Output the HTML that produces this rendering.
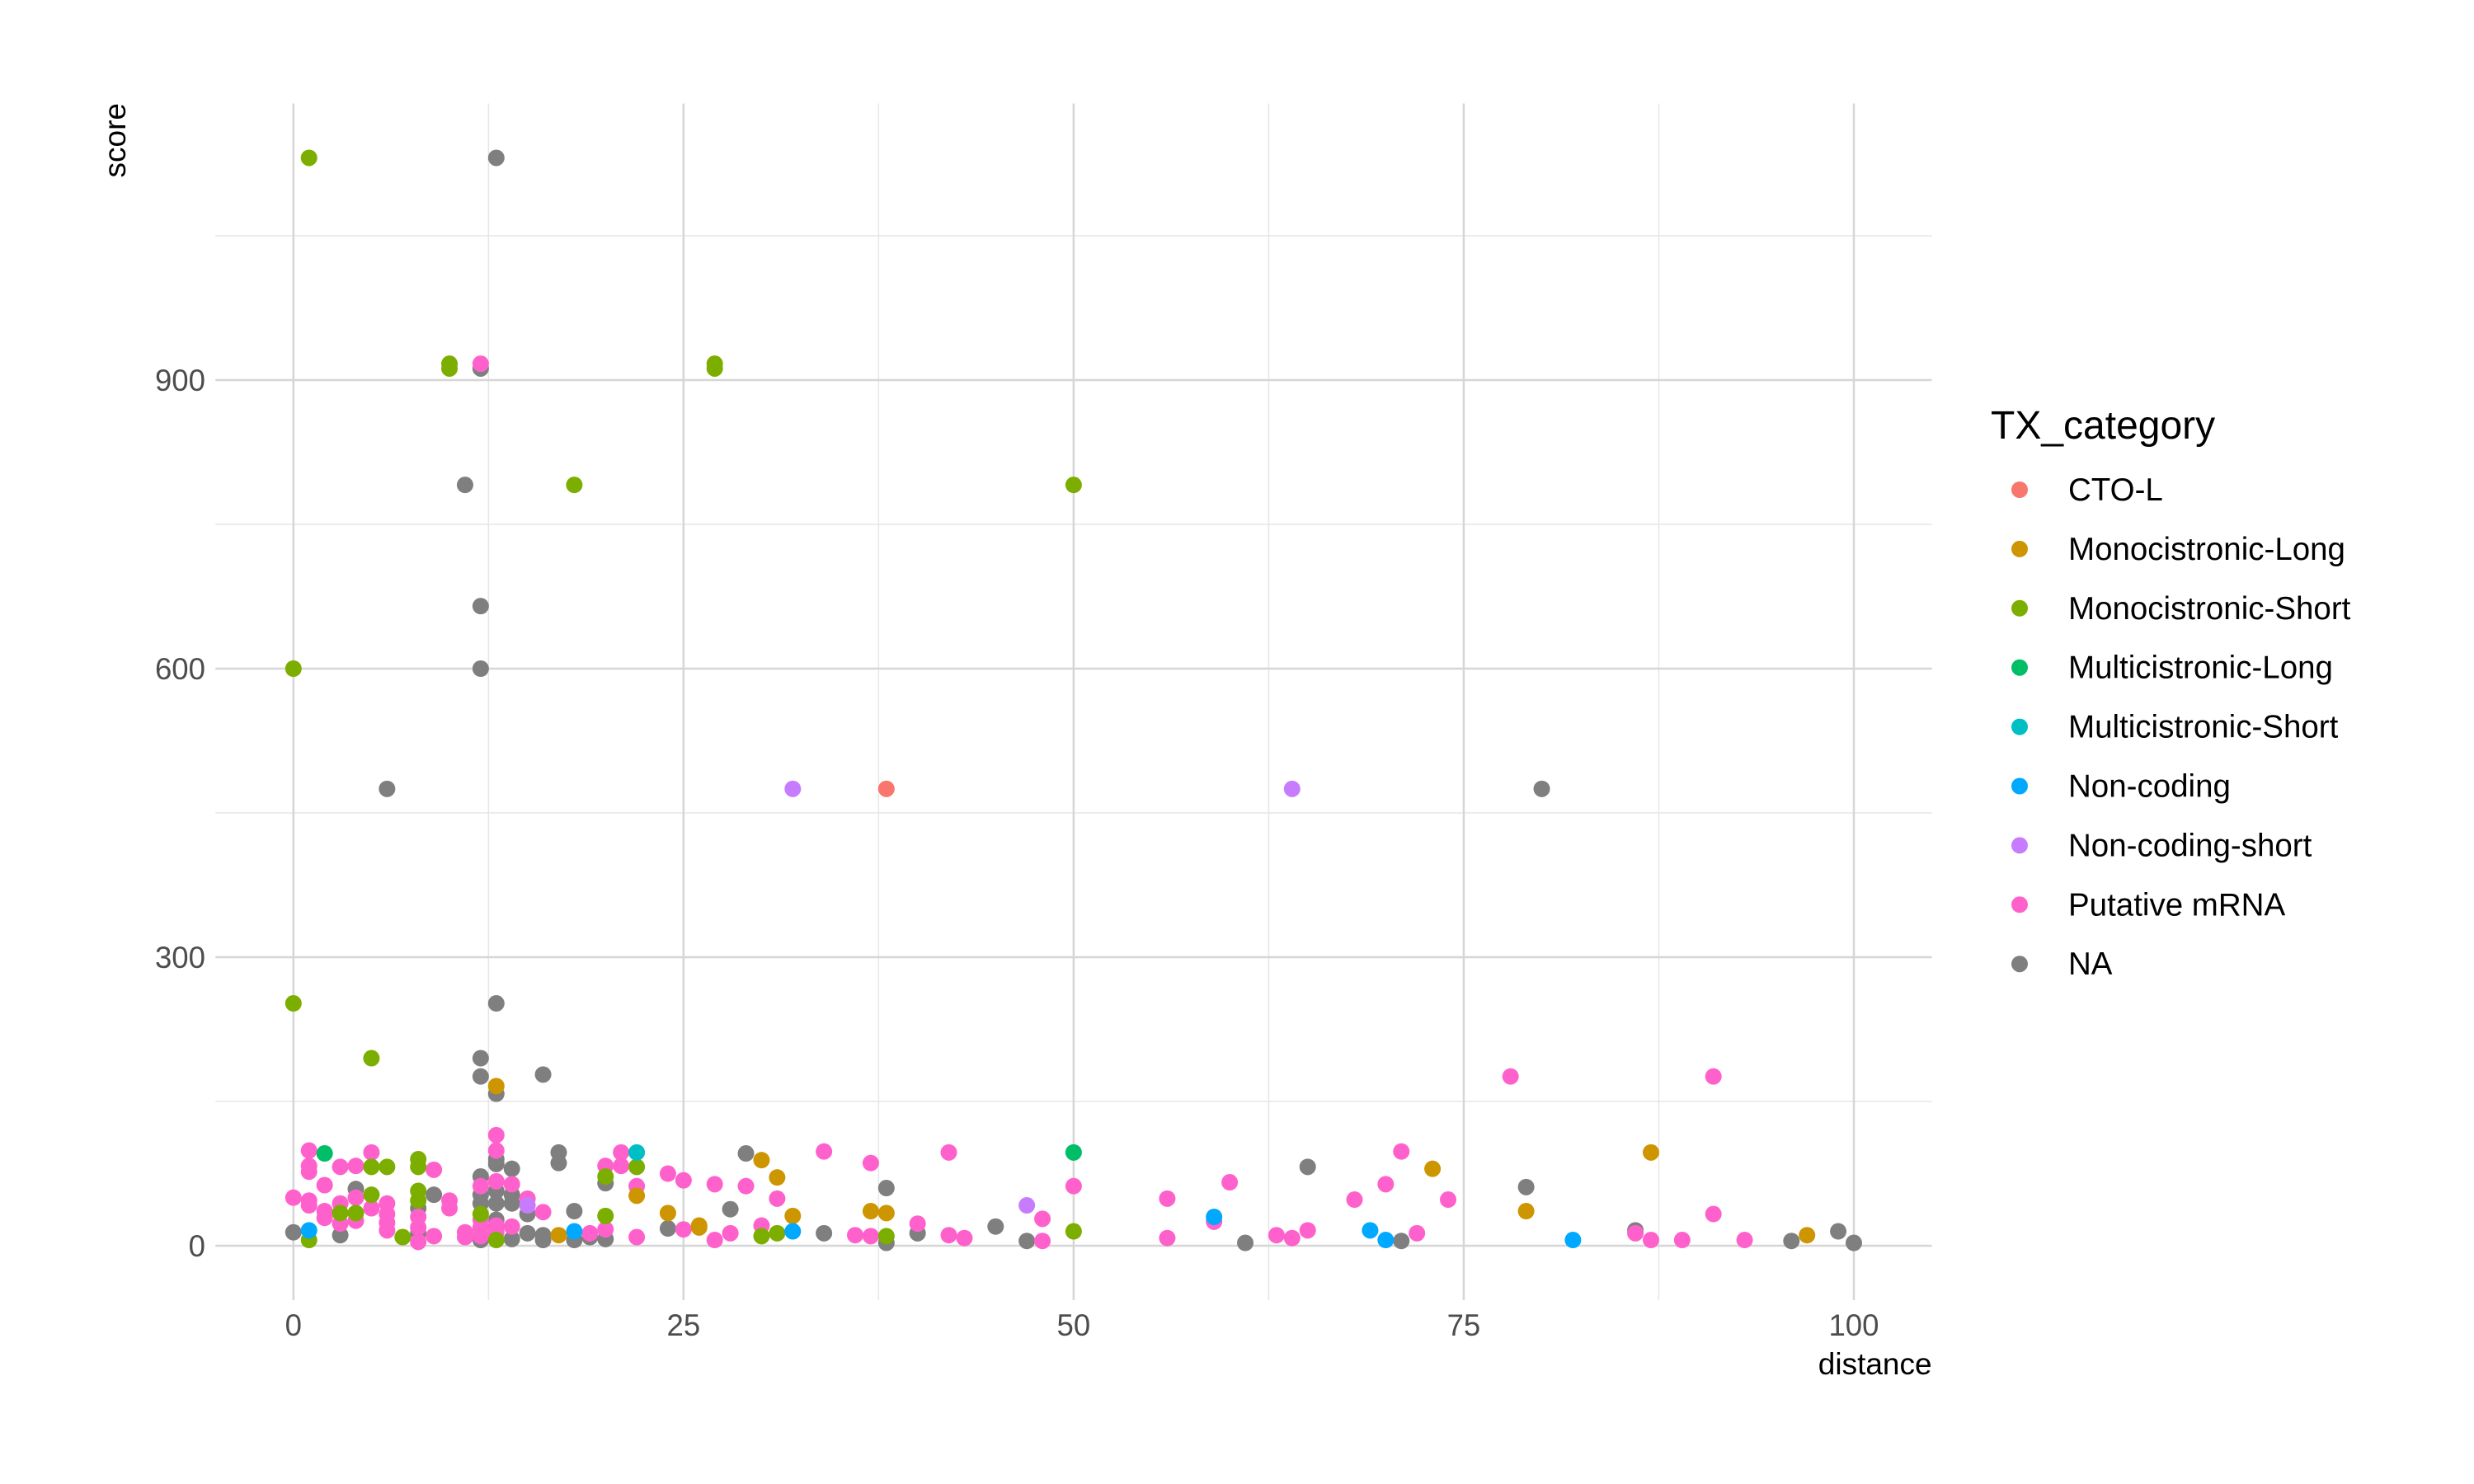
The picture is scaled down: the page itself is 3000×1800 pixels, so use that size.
<!DOCTYPE html>
<html><head><meta charset="utf-8"><style>
html,body{margin:0;padding:0;background:#fff;}
svg{display:block;font-family:"Liberation Sans",Arial,sans-serif;}
</style></head><body>
<svg id="chart" width="3000" height="1800" viewBox="0 0 3000 1800" xmlns="http://www.w3.org/2000/svg">
<g id="grid"></g>
<g id="points"></g>
<g id="axes"></g>
<g id="legend"></g>
</svg>
<script>
const categories = ["CTO-L","Monocistronic-Long","Monocistronic-Short","Multicistronic-Long","Multicistronic-Short","Non-coding","Non-coding-short","Putative mRNA","NA"];
const catColors = ["#F8766D","#CD9600","#7CAE00","#00BE67","#00BFC4","#00A9FF","#C77CFF","#FF61CC","#7F7F7F"];
const xTicks = [0,25,50,75,100];
const yTicks = [0,300,600,900];

const ctoDist = [38];
const ctoScore = [475];
const monoLongDist = [13,17,22,24,26,26,30,31,32,37,38,73,79,87,97];
const monoLongScore = [166,11,52,34,19,21,89,71,31,36,34,80,36,97,11];
const monoShortDist = [1,10,10,27,27,18,50,0,0,5,1,5,6,3,4,5,7,8,8,8,8,12,13,20,20,22,30,31,38,50];
const monoShortScore = [1131,917,912,917,912,791,791,600,252,195,6,82,82,34,34,53,9,90,82,57,47,33,6,72,31,82,10,13,10,15];
const multiLongDist = [2,50];
const multiLongScore = [96,97];
const multiShortDist = [22];
const multiShortScore = [97];
const nonCodingDist = [1,18,32,59,69,70,82];
const nonCodingScore = [16,15,15,30,16,6,6];
const nonCodingShortDist = [32,64,47,15];
const nonCodingShortScore = [475,475,42,42];
const mrnaDist = [12,78,91,1,1,1,2,0,1,1,3,4,5,4,3,2,2,3,5,6,6,6,6,4,9,8,8,8,9,10,10,11,11,12,12,12,12,13,13,13,13,13,14,14,15,16,19,20,20,21,21,22,22,24,25,25,27,27,28,29,30,31,34,36,37,37,40,42,42,43,48,48,50,56,56,59,60,63,64,65,68,70,71,72,74,86,87,89,91,93];
const mrnaScore = [917,176,176,99,83,77,63,50,47,42,82,83,97,50,44,36,29,23,39,44,33,24,16,26,79,30,19,4,10,47,39,14,9,62,27,19,10,115,99,67,21,14,64,20,49,35,13,83,17,97,83,62,9,75,68,17,64,6,13,62,21,49,98,11,86,10,23,97,11,8,28,5,62,49,8,25,66,11,8,16,48,64,98,13,48,13,6,6,33,6];
const naDist = [13,12,11,12,12,6,80,13,12,12,16,13,0,4,3,8,9,8,12,12,12,12,13,13,13,13,13,14,14,14,14,15,15,16,16,17,17,18,18,19,20,20,24,28,29,34,38,38,40,45,47,61,65,71,79,86,96,99,100];
const naScore = [1131,912,791,665,600,475,475,252,195,176,178,158,14,59,11,39,53,13,72,53,44,6,90,85,57,44,27,80,53,44,7,33,13,11,6,97,86,36,6,9,65,7,18,38,96,13,60,3,13,20,5,3,82,5,61,16,5,15,3];

const seriesDist = [ctoDist,monoLongDist,monoShortDist,multiLongDist,multiShortDist,nonCodingDist,nonCodingShortDist,mrnaDist,naDist];
const seriesScore = [ctoScore,monoLongScore,monoShortScore,multiLongScore,multiShortScore,nonCodingScore,nonCodingShortScore,mrnaScore,naScore];
const drawOrder = [8,7,2,1,3,4,5,6,0];

const NS = "http://www.w3.org/2000/svg";
const px0 = 261.2, px1 = 2342.6, py0 = 125.5, py1 = 1577;
const xMin = -5, xMax = 105, yMin = -56.55, yMax = 1187.55;
function sx(v){ return px0 + (v - xMin) / (xMax - xMin) * (px1 - px0); }
function sy(v){ return py1 - (v - yMin) / (yMax - yMin) * (py1 - py0); }
function mk(tag, attrs, parent){ const e = document.createElementNS(NS, tag); for (const k in attrs) e.setAttribute(k, attrs[k]); parent.appendChild(e); return e; }

const grid = document.getElementById('grid');
for (let i = 0; i < xTicks.length - 1; i++) {
  const v = (xTicks[i] + xTicks[i+1]) / 2;
  const l = mk('line', {x1: sx(v), x2: sx(v), y1: py0, y2: py1, stroke: '#e6e6e6', 'stroke-width': 1.5}, grid);
  
  
}
for (let i = 0; i < yTicks.length; i++) {
  const v = yTicks[i] + 150;
  if (v > yMax) continue;
  const l = mk('line', {x1: px0, x2: px1, y1: sy(v), y2: sy(v), stroke: '#e6e6e6', 'stroke-width': 1.5}, grid);
  
  
}
const axes = document.getElementById('axes');
xTicks.forEach(v => {
  const l = mk('line', {x1: sx(v), x2: sx(v), y1: py0, y2: py1, stroke: '#d6d6d6', 'stroke-width': 2.5}, grid);
  
  
  const t = mk('text', {x: sx(v), y: 1620, 'text-anchor': 'middle', 'font-size': 36.6, fill: '#4d4d4d'}, axes);
  t.textContent = v;
  
  
});
yTicks.forEach(v => {
  const l = mk('line', {x1: px0, x2: px1, y1: sy(v), y2: sy(v), stroke: '#d6d6d6', 'stroke-width': 2.5}, grid);
  
  
  const t = mk('text', {x: 249, y: sy(v) + 13, 'text-anchor': 'end', 'font-size': 36.6, fill: '#4d4d4d'}, axes);
  t.textContent = v;
  
  
});
const xt = mk('text', {x: px1, y: 1667, 'text-anchor': 'end', 'font-size': 37, fill: '#000'}, axes);
xt.textContent = 'distance';


const yt = mk('text', {x: 0, y: 0, 'text-anchor': 'end', 'font-size': 37, fill: '#000', transform: 'translate(152,125) rotate(-90)'}, axes);
yt.textContent = 'score';



const pts = document.getElementById('points');
drawOrder.forEach(ci => {
  const ds = seriesDist[ci], ss = seriesScore[ci];
  const n = Math.min(ds.length, ss.length);
  for (let i = 0; i < n; i++) {
    const c = mk('circle', {cx: sx(ds[i]), cy: sy(ss[i]), r: 10, fill: catColors[ci]}, pts);
    
    
  }
});

const lg = document.getElementById('legend');
const lt = mk('text', {x: 2414, y: 532, 'font-size': 48, fill: '#000'}, lg);
lt.textContent = 'TX_category';


categories.forEach((name, i) => {
  const y = 594 + i * 71.9;
  const g = mk('g', {}, lg);
  
  
  const c = mk('circle', {cx: 2449, cy: y, r: 10, fill: catColors[i]}, g);
  
  
  const t = mk('text', {x: 2508, y: y + 13, 'font-size': 38.5, fill: '#000'}, g);
  t.textContent = name;
  
  
});
</script>
</body></html>
